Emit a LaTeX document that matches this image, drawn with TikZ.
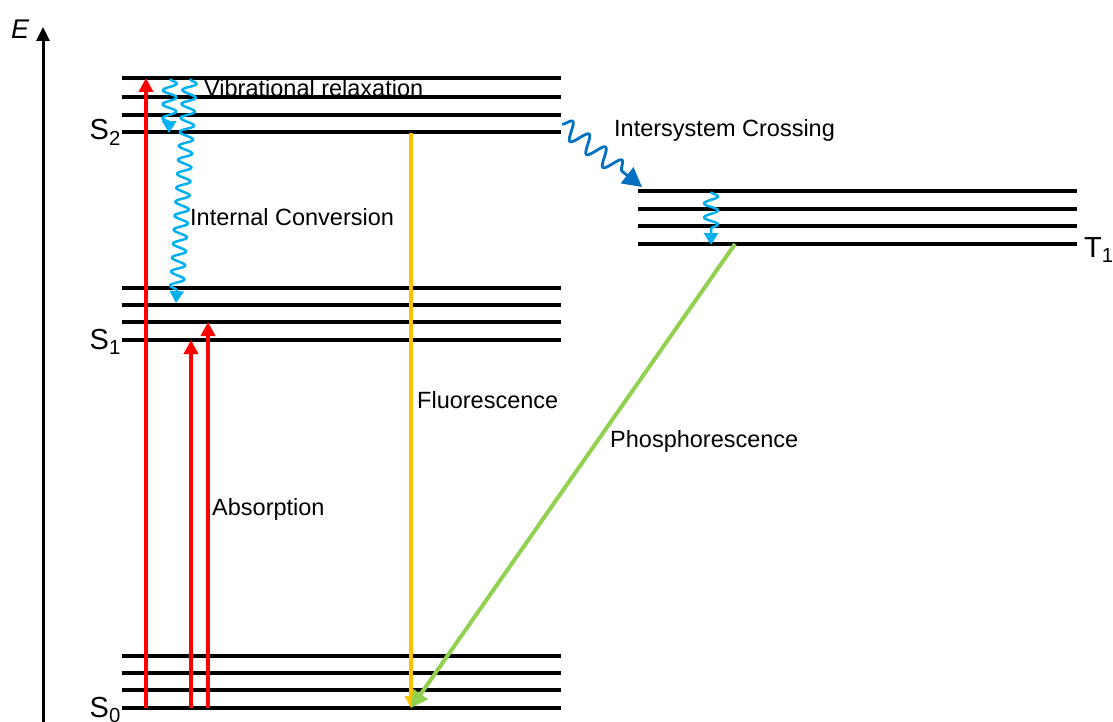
\documentclass[tikz,border=0pt]{standalone}
\usepackage{fontspec}
\setmainfont{Liberation Sans}
\usetikzlibrary{arrows.meta,decorations.pathmorphing}
\definecolor{abs}{HTML}{FF0000}
\definecolor{fluo}{HTML}{FFC000}
\definecolor{phos}{HTML}{92D050}
\definecolor{vib}{HTML}{00B0F0}
\definecolor{isc}{HTML}{0070C0}
\begin{document}
\begin{tikzpicture}[x=1pt,y=-1pt,
  level/.style={line width=3.5pt,black},
  lbl/.style={inner sep=0pt,anchor=west,font=\fontsize{23.5}{28}\selectfont},
  statelbl/.style={inner sep=0pt,font=\fontsize{29}{34}\selectfont},
  absarrow/.style={line width=4pt,abs,-{Triangle[length=14pt,width=14pt]}},
  wavy/.style={line width=2.5pt,vib,line join=round,decorate,
     decoration={snake,amplitude=7pt,segment length=14pt,post length=10pt},
     -{Triangle[length=12pt,width=14pt]}},
]
\useasboundingbox (0,0) rectangle (1113,722);
% energy axis
\coordinate (ebot) at (43,722);
\coordinate (etop) at (43,27);
\draw[line width=3pt,-{Triangle[length=14pt,width=13pt]}] (ebot) -- (etop);
\node[inner sep=0pt,anchor=base west,font=\fontsize{27}{32}\selectfont\itshape] (E) at (11,38.5) {E};
% levels
\foreach \y in {78,97,115,132} \draw[level] (122,\y) -- (561,\y);
\foreach \y in {288,305,322,340} \draw[level] (122,\y) -- (561,\y);
\foreach \y in {656,673,690,708} \draw[level] (122,\y) -- (561,\y);
\foreach \y in {191,209,226,244} \draw[level] (638,\y) -- (1077,\y);
% state labels
\node[statelbl,anchor=base east] (S2) at (121,140) {S\textsubscript{2}};
\node[statelbl,anchor=base east] (S1) at (121,349) {S\textsubscript{1}};
\node[statelbl,anchor=base east] (S0) at (121,717) {S\textsubscript{0}};
\node[statelbl,anchor=base west] (T1) at (1084,257) {T\textsubscript{1}};
% absorption
\coordinate (a1b) at (146,708); \coordinate (a1t) at (146,78);
\coordinate (a2b) at (191,708); \coordinate (a2t) at (191,340);
\coordinate (a3b) at (208,708); \coordinate (a3t) at (208,322);
\draw[absarrow] (a1b) -- (a1t);
\draw[absarrow] (a2b) -- (a2t);
\draw[absarrow] (a3b) -- (a3t);
% fluorescence
\coordinate (fs) at (411,133); \coordinate (fe) at (411,708);
\draw[line width=4pt,fluo,-{Triangle[length=12pt,width=12pt]}] (fs) -- (fe);
% phosphorescence
\coordinate (ps) at (735,244); \coordinate (pe) at (411,708);
\draw[line width=4pt,phos,-{Triangle[length=17pt,width=17pt]}] (ps) -- (pe);
% vibrational relaxation / internal conversion
\coordinate (v1s) at (170,79); \coordinate (v1e) at (169,133);
\draw[wavy] (v1s) -- (v1e);
\coordinate (ics) at (190,79); \coordinate (ice) at (176,303);
\draw[wavy] (ics) -- (ice);
\coordinate (t1s) at (711,192); \coordinate (t1e) at (711,245);
\draw[wavy] (t1s) -- (t1e);
% intersystem crossing
\coordinate (iscs) at (562,124); \coordinate (isce) at (642,187);
\draw[line width=2.8pt,isc,line join=round,decorate,
  decoration={snake,amplitude=9pt,segment length=21pt,post length=16pt},
  -{Triangle[length=19pt,width=20pt]}] (iscs) -- (isce);
% labels
\node[lbl] (lvr) at (204,88) {Vibrational relaxation};
\node[lbl] (lic) at (190,217) {Internal Conversion};
\node[lbl] (lisc) at (614,130) {Intersystem Crossing};
\node[lbl] (lab) at (212,509) {Absorption};
\node[lbl] (lfl) at (417,400) {Fluorescence};
\node[lbl] (lph) at (610,441) {Phosphorescence};
\end{tikzpicture}
\end{document}
